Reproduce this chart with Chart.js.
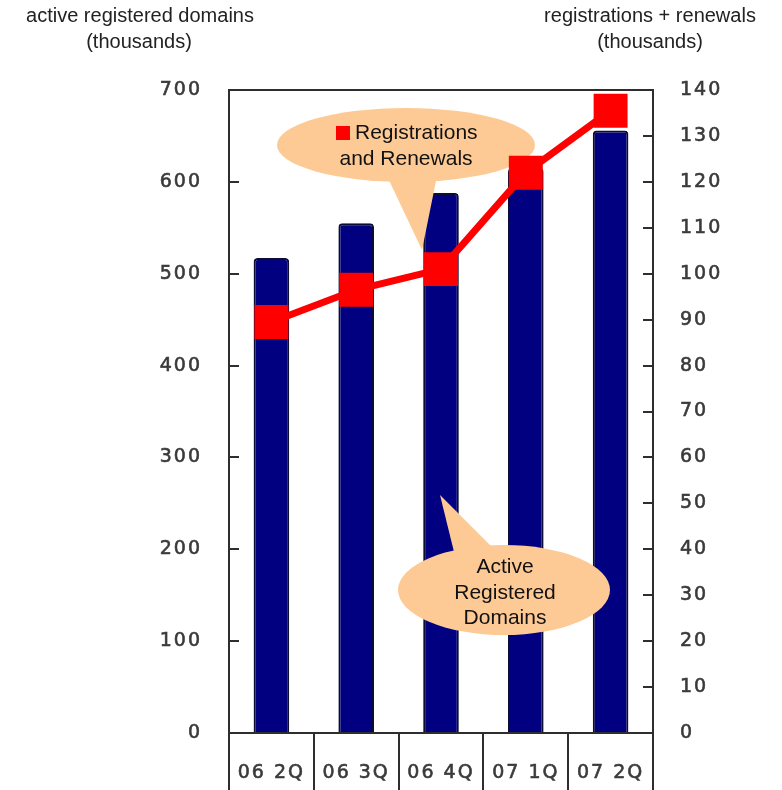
<!DOCTYPE html>
<html>
<head>
<meta charset="utf-8">
<script src="https://cdn.jsdelivr.net/npm/chart.js@4"></script>
<style>
  body { margin: 0; background: #ffffff; }
  canvas { display: block; }
</style>
</head>
<body>
<canvas id="domainChart" width="782" height="790"></canvas>
<script>
// ---- data ----
var quarters = ['06 2Q', '06 3Q', '06 4Q', '07 1Q', '07 2Q'];
var activeDomains = [517, 555, 588, 615, 656];          // left axis, thousands
var regsRenewals = [89.5, 96.5, 101, 122, 135.5];       // right axis, thousands
var leftTitle = ['active registered domains', '(thousands)'];
var rightTitle = ['registrations + renewals', '(thousands)'];

var frameColor = '#2e2e2e';
var bubbleColor = '#fdca95';
var tickColor = '#3a3a3a';

function drawBubble(ctx, cx, cy, rx, ry, tail) {
    ctx.fillStyle = bubbleColor;
    ctx.beginPath();
    ctx.ellipse(cx, cy, rx, ry, 0, 0, 2 * Math.PI);
    ctx.fill();
    ctx.beginPath();
    ctx.moveTo(tail[0][0], tail[0][1]);
    ctx.lineTo(tail[1][0], tail[1][1]);
    ctx.lineTo(tail[2][0], tail[2][1]);
    ctx.closePath();
    ctx.fill();
}

// callouts sit between the bars and the red line
var calloutPlugin = {
    id: 'callouts',
    beforeDatasetDraw: function (chart, args) {
        if (args.meta.type !== 'line') return;
        var ctx = chart.ctx;
        ctx.save();
        ctx.letterSpacing = '0px';
        drawBubble(ctx, 406, 145, 129, 37, [[387, 176], [437, 176], [422, 250]]);
        drawBubble(ctx, 504, 590, 106, 45, [[456, 560], [495, 550], [440, 495]]);

        ctx.font = '21px "Liberation Sans", Arial, sans-serif';
        ctx.textBaseline = 'middle';
        ctx.fillStyle = '#111111';
        ctx.textAlign = 'left';
        ctx.fillText('Registrations', 355, 133);
        ctx.textAlign = 'center';
        ctx.fillText('and Renewals', 406, 159);
        ctx.fillStyle = '#ff0000';
        ctx.fillRect(336, 126, 14, 14);

        ctx.fillStyle = '#111111';
        ctx.fillText('Active', 505, 567);
        ctx.fillText('Registered', 505, 593);
        ctx.fillText('Domains', 505, 618);
        ctx.restore();
    }
};

// frame, inward ticks and the two axis titles
var framePlugin = {
    id: 'frame',
    beforeDraw: function (chart) {
        chart.ctx.letterSpacing = '2px';
    },
    afterDraw: function (chart) {
        var ctx = chart.ctx,
            area = chart.chartArea,
            yL = chart.scales.y,
            yR = chart.scales.y1;
        ctx.save();
        ctx.letterSpacing = '0px';
        ctx.strokeStyle = frameColor;
        ctx.lineWidth = 2;
        ctx.strokeRect(area.left, area.top, area.right - area.left, area.bottom - area.top);

        ctx.beginPath();
        yL.ticks.forEach(function (t) {
            var py = Math.round(yL.getPixelForValue(t.value));
            ctx.moveTo(area.left, py);
            ctx.lineTo(area.left + 10, py);
        });
        yR.ticks.forEach(function (t) {
            var py = Math.round(yR.getPixelForValue(t.value));
            ctx.moveTo(area.right - 10, py);
            ctx.lineTo(area.right, py);
        });
        ctx.stroke();

        ctx.font = '20px "Liberation Sans", Arial, sans-serif';
        ctx.fillStyle = '#222222';
        ctx.textAlign = 'center';
        ctx.textBaseline = 'middle';
        ctx.fillText(leftTitle[0], 140, 16);
        ctx.fillText(leftTitle[1], 139, 42);
        ctx.fillText(rightTitle[0], 650, 16);
        ctx.fillText(rightTitle[1], 650, 42);
        ctx.restore();
    }
};

var tickFont = { family: '"DejaVu Sans", sans-serif', size: 19 };

var domainChart = new Chart(document.getElementById('domainChart').getContext('2d'), {
    type: 'bar',
    data: {
        labels: quarters,
        datasets: [{
            type: 'line',
            label: 'Registrations and Renewals',
            data: regsRenewals,
            yAxisID: 'y1',
            order: 1,
            borderColor: '#ff0000',
            backgroundColor: '#ff0000',
            borderWidth: 7,
            pointStyle: 'rect',
            pointRadius: 24,
            pointBorderWidth: 0,
            tension: 0
        }, {
            type: 'bar',
            label: 'Active Registered Domains',
            data: activeDomains,
            yAxisID: 'y',
            order: 2,
            backgroundColor: '#000080',
            borderColor: '#0d0d33',
            borderWidth: 2,
            borderSkipped: 'bottom',
            borderRadius: { topLeft: 4, topRight: 4 },
            categoryPercentage: 1,
            barPercentage: 0.42
        }]
    },
    options: {
        responsive: false,
        animation: false,
        devicePixelRatio: 1,
        layout: { padding: { top: 90, left: 0, right: 0, bottom: 0 } },
        plugins: {
            legend: { display: false },
            tooltip: { enabled: false }
        },
        scales: {
            x: {
                grid: {
                    offset: true,
                    drawOnChartArea: false,
                    drawTicks: true,
                    tickLength: 60,
                    color: frameColor,
                    lineWidth: 2
                },
                border: { display: true, color: frameColor, width: 2 },
                ticks: {
                    font: { family: '"DejaVu Sans", sans-serif', size: 19 },
                    color: tickColor,
                    textStrokeColor: tickColor,
                    textStrokeWidth: 0.6,
                    padding: -31,
                    maxRotation: 0
                },
                afterFit: function (scale) { scale.height = 57; }
            },
            y: {
                position: 'left',
                min: 0,
                max: 700,
                ticks: {
                    stepSize: 100, font: tickFont, color: tickColor,
                    textStrokeColor: tickColor, textStrokeWidth: 0.6, padding: 27
                },
                grid: { display: false, drawTicks: false },
                border: { display: false },
                afterFit: function (scale) { scale.width = 229; }
            },
            y1: {
                position: 'right',
                min: 0,
                max: 140,
                ticks: {
                    stepSize: 10, font: tickFont, color: tickColor,
                    textStrokeColor: tickColor, textStrokeWidth: 0.6, padding: 27
                },
                grid: { display: false, drawTicks: false },
                border: { display: false },
                afterFit: function (scale) { scale.width = 129; }
            }
        }
    },
    plugins: [calloutPlugin, framePlugin]
});
</script>
</body>
</html>
